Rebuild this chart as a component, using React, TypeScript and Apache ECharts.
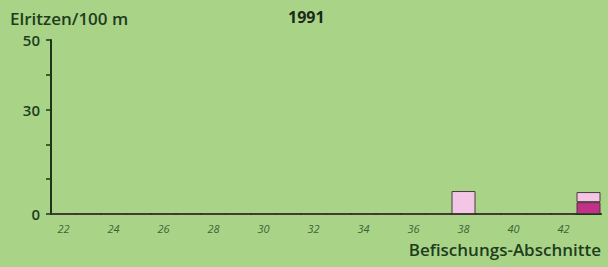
import React, { useEffect, useRef } from "react";
import * as echarts from "echarts";

const sections = ["22","23","24","25","26","27","28","29","30","31","32","33","34","35","36","37","38","39","40","41","42","43"];
const darkValues = [0,0,0,0,0,0,0,0,0,0,0,0,0,0,0,0,0,0,0,0,0,3.4];
const lightValues = [0,0,0,0,0,0,0,0,0,0,0,0,0,0,0,0,6.6,0,0,0,0,2.9];
const yLabels = [0, 30, 50];

export default function App() {
  const ref = useRef<HTMLDivElement>(null);
  useEffect(() => {
    const chart = echarts.init(ref.current!, null, { renderer: "svg" });
    const textColor = "#1f3d1c";
    chart.setOption({
      animation: false,
      backgroundColor: "#a9d488",
      textStyle: { fontFamily: "Open Sans" },
      title: [
        { text: "1991", left: 283, top: 4, textStyle: { fontSize: 16, fontWeight: "bold", color: "#1a2a18", fontFamily: "Open Sans" } },
        { text: "Elritzen/100 m", left: 5, top: 5, textStyle: { fontSize: 17, fontWeight: 600, color: textColor, fontFamily: "Open Sans" } },
        { text: "Befischungs-Abschnitte", right: 2, top: 236, textStyle: { fontSize: 17, fontWeight: 600, color: textColor, fontFamily: "Open Sans" } },
      ],
      grid: { left: 51, right: 7, top: 40, bottom: 53, containLabel: false },
      xAxis: {
        type: "category",
        data: sections,
        boundaryGap: true,
        axisLine: { lineStyle: { color: "#1c3418", width: 2 } },
        axisTick: { show: false },
        axisLabel: {
          interval: 1,
          color: "#3d6236",
          fontSize: 11,
          fontStyle: "italic",
          margin: 9,
        },
        splitLine: { show: false },
      },
      yAxis: {
        type: "value",
        min: 0,
        max: 50,
        interval: 10,
        axisLine: { show: true, lineStyle: { color: "#1c3418", width: 2 } },
        axisTick: { show: true, length: 5, lineStyle: { color: "#1c3418", width: 1.5 } },
        axisLabel: {
          color: textColor,
          fontSize: 15,
          fontWeight: 600,
          margin: 11,
          formatter: (v: number) => (yLabels.includes(v) ? String(v) : ""),
        },
        splitLine: { show: false },
      },
      series: [
        {
          type: "bar",
          stack: "a",
          data: darkValues,
          barWidth: "96%",
          itemStyle: { color: "#c2308a", borderColor: "#4a3a3a", borderWidth: 1 },
        },
        {
          type: "bar",
          stack: "a",
          data: lightValues,
          barWidth: "96%",
          itemStyle: { color: "#f3c6e6", borderColor: "#4a3a3a", borderWidth: 1 },
        },
      ],
    });
    return () => chart.dispose();
  }, []);
  return <div ref={ref} style={{ position: "fixed", left: 0, top: 0, width: 608, height: 267 }} />;
}
